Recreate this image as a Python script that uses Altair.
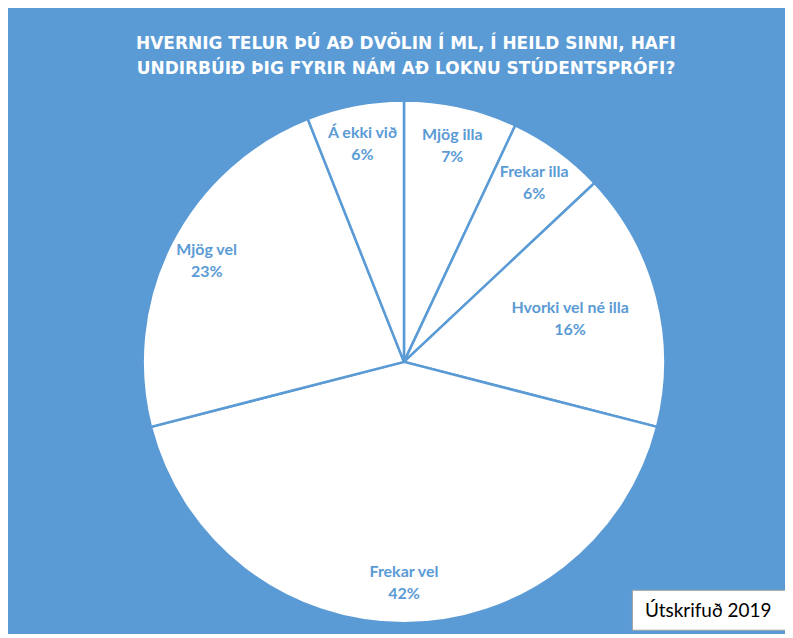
import altair as alt
import pandas as pd

BLUE = "#5B9BD5"

categories = ["Mjög illa", "Frekar illa", "Hvorki vel né illa", "Frekar vel", "Mjög vel", "Á ekki við"]
percents = [7, 6, 16, 42, 23, 6]
title_lines = [
    "HVERNIG TELUR ÞÚ AÐ DVÖLIN Í ML, Í HEILD SINNI, HAFI",
    "UNDIRBÚIÐ ÞIG FYRIR NÁM AÐ LOKNU STÚDENTSPRÓFI?",
]
note_text = "Útskrifuð 2019"

df = pd.DataFrame({
    "label": categories,
    "pct": percents,
    "idx": list(range(len(categories))),
})

CX, CY, R = 397, 354, 262
theta_scale = alt.Scale(domain=[0, 100])

arcs = alt.Chart(df).mark_arc(radius=R, fill="white", stroke=BLUE, strokeWidth=2.5).encode(
    theta=alt.Theta("pct:Q", stack=True, scale=theta_scale),
    order=alt.Order("idx:Q", sort="ascending"),
    x=alt.value(CX), y=alt.value(CY),
)

labels = alt.Chart(df).transform_stack(
    stack="pct", as_=["s0", "s1"], groupby=[], sort=[alt.SortField("idx", order="ascending")]
).transform_calculate(
    mid="(datum.s0 + datum.s1) / 2",
    txt="datum.label + '\\n' + datum.pct + '%'",
    lr="datum.label == 'Hvorki vel né illa' ? 172 : 222",
).mark_text(
    lineBreak="\n", font="Lato", fontSize=16, fontWeight="bold", color=BLUE,
    align="center", baseline="middle", lineHeight=22, dy=-11,
).encode(
    theta=alt.Theta("mid:Q", stack=None, scale=theta_scale),
    x=alt.value(CX), y=alt.value(CY),
    radius=alt.Radius("lr:Q", scale=None),
    text="txt:N",
)

tdf = pd.DataFrame({"line": title_lines, "row": [0, 1]})
title = alt.Chart(tdf).transform_calculate(
    ty="35 + datum.row * 25"
).mark_text(
    font="DejaVu Sans", fontSize=17, fontWeight="bold", color="white",
    align="center", baseline="middle",
).encode(
    x=alt.value(CX + 2),
    y=alt.Y("ty:Q", scale=None),
    text="line:N",
)

ndf = pd.DataFrame({"note": [note_text]})
box = alt.Chart(ndf).mark_rect(fill="white", stroke="#A0A0A0", strokeWidth=1).encode(
    x=alt.value(626), x2=alt.value(790), y=alt.value(583), y2=alt.value(623)
)
note = alt.Chart(ndf).mark_text(
    font="Lato", fontSize=19, color="black", align="center", baseline="middle"
).encode(x=alt.value(702), y=alt.value(604), text="note:N")

chart = alt.layer(arcs, labels, title, box, note).properties(
    width=779, height=626, autosize="none", padding=0, background=BLUE
).configure_view(stroke=None)

chart.save("out.html", embed_options={"renderer": "svg", "actions": False})
